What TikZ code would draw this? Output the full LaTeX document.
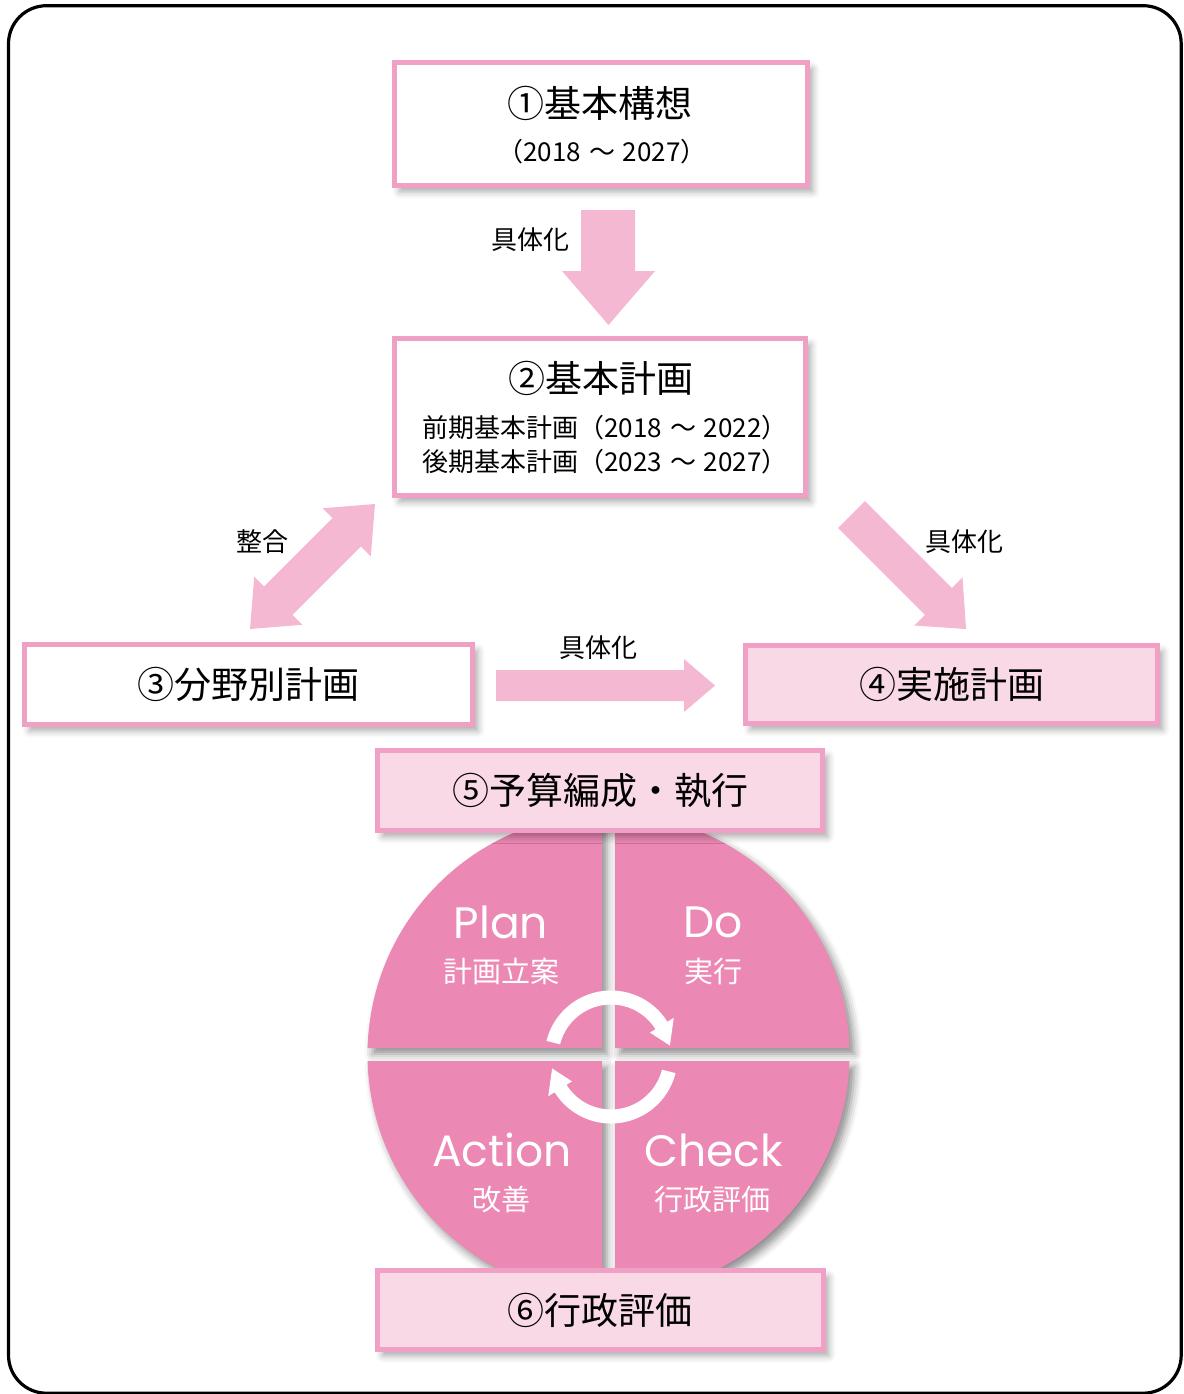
\documentclass[tikz,border=0pt]{standalone}
\usepackage{fontspec}
\newfontfamily\jp{Noto Sans CJK JP}
\newfontfamily\pop{Poppins}
\usetikzlibrary{shadows.blur}
\definecolor{pborder}{HTML}{F0A0C4}
\definecolor{pfill}{HTML}{F9D9E6}
\definecolor{parrow}{HTML}{F4B8D2}
\definecolor{pquad}{HTML}{EC88B4}
\newcommand{\tl}{\hspace{0.3em}～\hspace{0.3em}}
\tikzset{
  outerframe/.style={draw=black, line width=3.2pt, rounded corners=38pt},
  box/.style={draw=pborder, line width=5pt, fill=white, inner sep=0pt,
    blur shadow={shadow xshift=5pt, shadow yshift=-6pt, shadow blur radius=7pt, shadow opacity=35}},
  pinkbox/.style={box, fill=pfill},
  ttl/.style={font=\jp\fontsize{37}{40}\selectfont, inner sep=0pt},
  subt/.style={font=\jp\fontsize{26}{34}\selectfont, inner sep=0pt},
  lbl/.style={font=\jp\fontsize{26}{30}\selectfont, inner sep=0pt},
  blockarrow/.style={fill=parrow},
  quadrant/.style={fill=pquad,
    blur shadow={shadow xshift=5pt, shadow yshift=-6pt, shadow blur radius=8pt, shadow opacity=45}},
  entext/.style={font=\pop\fontsize{44}{48}\selectfont, text=white, inner sep=0pt},
  jwhite/.style={font=\jp\fontsize{29}{32}\selectfont, text=white, inner sep=0pt},
}
\begin{document}
\begin{tikzpicture}[x=1pt, y=-1pt]
\useasboundingbox (0,0) rectangle (1183,1394);
% outer frame
\draw[outerframe] (8.5,5.7) rectangle (1181.2,1393.2);

% block arrows
\fill[blockarrow] (581,210) -- (635,210) -- (635,271) -- (655,271) -- (608.5,325) -- (562,271) -- (581,271) -- cycle;
\fill[blockarrow] (496,670) -- (684,670) -- (684,659) -- (715,685.5) -- (684,712) -- (684,701) -- (496,701) -- cycle;
\begin{scope}[shift={(312.5,566.5)}, rotate=45]
  \fill[blockarrow] (88.4,0) -- (48.4,34) -- (48.4,20) -- (-48.4,20) -- (-48.4,34) -- (-88.4,0)
     -- (-48.4,-34) -- (-48.4,-20) -- (48.4,-20) -- (48.4,-34) -- cycle;
\end{scope}
\begin{scope}[shift={(851.5,514.5)}, rotate=-45]
  \fill[blockarrow] (0,-19) -- (123,-19) -- (123,-34) -- (162,0) -- (123,34) -- (123,19) -- (0,19) -- cycle;
\end{scope}

% arrow labels
\node[lbl] (l1) at (530,240) {具体化};
\node[lbl] (l2) at (262,542) {整合};
\node[lbl] (l3) at (964,542) {具体化};
\node[lbl] (l4) at (598,648) {具体化};

% boxes
\node[box, minimum width=413pt, minimum height=123pt] (b1) at (601,124) {};
\node[ttl] (b1t) at (600,103) {①基本構想};
\node[subt] (b1s) at (602,152) {（2018\tl 2027）};

\node[box, minimum width=411pt, minimum height=157pt] (b2) at (600,417) {};
\node[ttl] (b2t) at (601,378) {②基本計画};
\node[subt, align=left] (b2s) at (605,445) {前期基本計画（2018\tl 2022）\\後期基本計画（2023\tl 2027）};

\node[box, minimum width=448pt, minimum height=80pt] (b3) at (248.5,684.5) {};
\node[ttl] (b3t) at (248.5,684) {③分野別計画};

\node[pinkbox, minimum width=412pt, minimum height=78pt] (b4) at (951.5,684.5) {};
\node[ttl] (b4t) at (951.5,684) {④実施計画};

% PDCA circle
\fill[quadrant] (602,1048) -- (602,813.6) arc[start angle=-91.545, end angle=-178.455, radius=241] -- cycle;
\fill[quadrant] (615,1048) -- (849.4,1048) arc[start angle=-1.545, end angle=-88.455, radius=241] -- cycle;
\fill[quadrant] (602,1061) -- (367.6,1061) arc[start angle=178.455, end angle=91.545, radius=241] -- cycle;
\fill[quadrant] (615,1061) -- (615,1295.4) arc[start angle=88.455, end angle=1.545, radius=241] -- cycle;

\begin{scope}[shift={(611,1057)}]
  \fill[white] (-166:66.5) arc[start angle=-166, end angle=-32, radius=66.5] -- (-32:74) -- (-11:60)
     -- (-32:46) -- (-32:52.5) arc[start angle=-32, end angle=-166, radius=52.5] -- cycle;
  \fill[white] (14:66.5) arc[start angle=14, end angle=148, radius=66.5] -- (148:74) -- (169:60)
     -- (148:46) -- (148:52.5) arc[start angle=148, end angle=14, radius=52.5] -- cycle;
\end{scope}

\node[entext] (plan) at (501,922) {Plan};
\node[jwhite] (planj) at (501,971) {計画立案};
\node[entext] (do) at (713,922) {Do};
\node[jwhite] (doj) at (713,971) {実行};
\node[entext] (act) at (502,1150) {Action};
\node[jwhite] (actj) at (501,1199) {改善};
\node[entext] (chk) at (713.5,1150) {Check};
\node[jwhite] (chkj) at (712.5,1199) {行政評価};

\node[pinkbox, minimum width=445pt, minimum height=80pt] (b5) at (600,790.5) {};
\node[ttl] (b5t) at (600,791) {⑤予算編成・執行};

\node[pinkbox, minimum width=446pt, minimum height=79pt] (b6) at (600.5,1310) {};
\node[ttl] (b6t) at (600,1310) {⑥行政評価};
\end{tikzpicture}
\end{document}
